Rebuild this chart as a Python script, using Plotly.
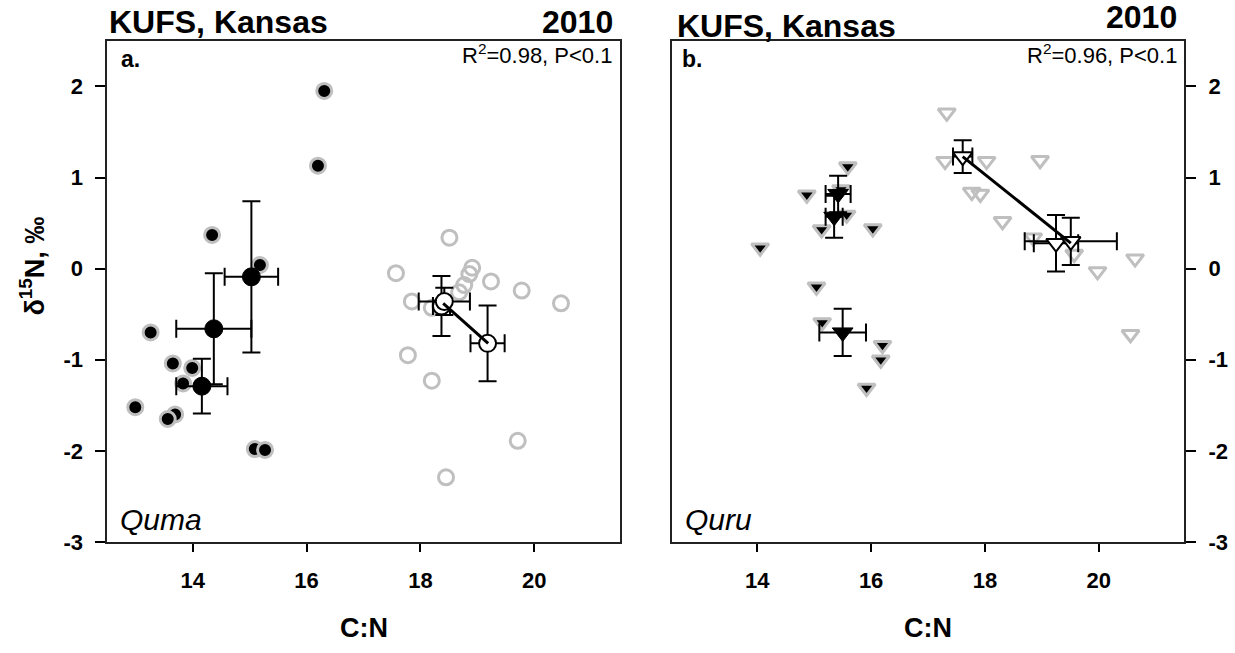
import plotly.graph_objects as go

# ---- panel a (Quma) ----
a_dark_x = [16.31, 16.20, 14.34, 15.18, 13.26, 13.65, 13.99, 13.83, 12.99, 13.69, 13.56, 15.09, 15.27]
a_dark_y = [1.95, 1.13, 0.37, 0.04, -0.70, -1.04, -1.09, -1.26, -1.52, -1.60, -1.65, -1.98, -1.99]
a_light_x = [18.51, 17.57, 18.91, 18.86, 19.24, 18.77, 18.68, 19.78, 20.47, 17.85, 18.20, 18.35, 17.78, 18.20, 19.71, 18.45]
a_light_y = [0.34, -0.05, 0.01, -0.06, -0.14, -0.18, -0.26, -0.24, -0.38, -0.36, -0.43, -0.41, -0.95, -1.23, -1.89, -2.29]

a_dark_mean_x = [15.03, 14.37, 14.16]
a_dark_mean_y = [-0.09, -0.66, -1.29]
a_dark_mean_ex = [0.47, 0.66, 0.45]
a_dark_mean_ey = [0.83, 0.61, 0.30]

a_light_mean_x = [18.37, 18.42, 19.18]
a_light_mean_y = [-0.41, -0.36, -0.82]
a_light_mean_ex = [0.15, 0.45, 0.30]
a_light_mean_ey = [0.33, 0.15, 0.415]

a_fit_x = [18.40, 19.19]
a_fit_y = [-0.38, -0.82]

# ---- panel b (Quru) ----
b_dark_x = [15.59, 14.87, 15.47, 15.57, 15.13, 16.03, 14.05, 15.04, 15.14, 16.20, 16.17, 15.92]
b_dark_y = [1.12, 0.81, 0.87, 0.59, 0.43, 0.44, 0.23, -0.20, -0.59, -0.84, -1.00, -1.31]
b_light_x = [17.33, 17.30, 18.03, 18.97, 17.77, 17.92, 18.31, 18.85, 19.57, 19.98, 20.64, 20.56]
b_light_y = [1.71, 1.18, 1.18, 1.19, 0.84, 0.82, 0.52, 0.34, 0.16, -0.03, 0.11, -0.72]

b_dark_mean_x = [15.42, 15.35, 15.50]
b_dark_mean_y = [0.82, 0.57, -0.70]
b_dark_mean_ex = [0.22, 0.15, 0.41]
b_dark_mean_ey = [0.20, 0.23, 0.26]

b_light_mean_x = [17.61, 19.25, 19.51]
b_light_mean_y = [1.23, 0.28, 0.30]
b_light_mean_ex = [0.17, 0.39, 0.81]
b_light_mean_ey = [0.18, 0.31, 0.26]

b_fit_x = [17.61, 19.51]
b_fit_y = [1.23, 0.28]

x_ticks = [14, 16, 18, 20]
x_ticktext = ['14', '16', '18', '20']
y_ticks = [-3, -2, -1, 0, 1, 2]
y_ticktext = ['-3', '-2', '-1', '0', '1', '2']

GREY = '#bfbfbf'
FONT = 'Liberation Sans'
W, H = 1235, 653


def err(vals):
    return dict(type='data', array=vals, color='black', thickness=2, width=9)


def add_panel(fig, xa, ya, dark_x, dark_y, light_x, light_y,
              dm_x, dm_y, dm_ex, dm_ey, lm_x, lm_y, lm_ex, lm_ey,
              fit_x, fit_y, sym):
    open_sym = sym + '-open'
    fig.add_trace(go.Scatter(x=light_x, y=light_y, mode='markers', xaxis=xa, yaxis=ya,
                             marker=dict(symbol=open_sym, size=15, color=GREY,
                                         line=dict(color=GREY, width=3))))
    fig.add_trace(go.Scatter(x=dark_x, y=dark_y, mode='markers', xaxis=xa, yaxis=ya,
                             marker=dict(symbol=sym, size=15, color='black',
                                         line=dict(color=GREY, width=3))))
    fig.add_trace(go.Scatter(x=dm_x, y=dm_y, mode='markers', xaxis=xa, yaxis=ya,
                             error_x=err(dm_ex), error_y=err(dm_ey),
                             marker=dict(symbol=sym, size=18, color='black',
                                         line=dict(color='black', width=1))))
    fig.add_trace(go.Scatter(x=lm_x, y=lm_y, mode='markers', xaxis=xa, yaxis=ya,
                             error_x=err(lm_ex), error_y=err(lm_ey),
                             marker=dict(symbol=sym, size=17, color='white',
                                         line=dict(color='black', width=2))))
    fig.add_trace(go.Scatter(x=fit_x, y=fit_y, mode='lines', xaxis=xa, yaxis=ya,
                             line=dict(color='black', width=3)))


fig = go.Figure()
add_panel(fig, 'x', 'y', a_dark_x, a_dark_y, a_light_x, a_light_y,
          a_dark_mean_x, a_dark_mean_y, a_dark_mean_ex, a_dark_mean_ey,
          a_light_mean_x, a_light_mean_y, a_light_mean_ex, a_light_mean_ey,
          a_fit_x, a_fit_y, 'circle')
add_panel(fig, 'x2', 'y2', b_dark_x, b_dark_y, b_light_x, b_light_y,
          b_dark_mean_x, b_dark_mean_y, b_dark_mean_ex, b_dark_mean_ey,
          b_light_mean_x, b_light_mean_y, b_light_mean_ex, b_light_mean_ey,
          b_fit_x, b_fit_y, 'triangle-down')

tickfont = dict(family=FONT, size=22, color='black', weight='bold')
y_dom = [1 - 553 / H, 1 - 41.7 / H]

common_x = dict(range=[12.5, 21.5], tickvals=x_ticks, ticktext=x_ticktext,
                ticks='outside', ticklen=8, tickwidth=1.5, tickcolor='black',
                showline=True, mirror=True, linecolor='#222', linewidth=2,
                showgrid=False, zeroline=False, tickfont=tickfont, ticklabelstandoff=10)
common_y = dict(range=[-3, 2.5], tickvals=y_ticks, ticktext=y_ticktext,
                ticks='outside', ticklen=10, tickwidth=1.5, tickcolor='black',
                showline=True, mirror=True, linecolor='#222', linewidth=2,
                showgrid=False, zeroline=False, tickfont=tickfont, domain=y_dom,
                ticklabelstandoff=8)

fig.update_layout(
    width=W, height=H,
    margin=dict(l=0, r=0, t=0, b=0),
    paper_bgcolor='white', plot_bgcolor='white',
    showlegend=False,
    xaxis=dict(common_x, domain=[107.4 / W, 619.6 / W], anchor='y'),
    yaxis=dict(common_y, anchor='x', side='left'),
    xaxis2=dict(common_x, domain=[672 / W, 1184 / W], anchor='y2'),
    yaxis2=dict(common_y, anchor='x2', side='right'),
)


def txt(text, px, py, size, xanchor='left', bold=False, italic=False, angle=0):
    fig.add_annotation(text=text, x=px / W, y=1 - py / H, xref='paper', yref='paper',
                       xanchor=xanchor, yanchor='middle', showarrow=False, textangle=angle,
                       font=dict(family=FONT, size=size, color='black',
                                 weight='bold' if bold else 'normal',
                                 style='italic' if italic else 'normal'))


txt('KUFS, Kansas', 107, 22, 32, bold=True)
txt('2010', 615, 22, 32, xanchor='right', bold=True)
txt('KUFS, Kansas', 675, 27, 32, bold=True)
txt('2010', 1179, 17, 32, xanchor='right', bold=True)

txt('a.', 119, 60, 23, bold=True)
txt('b.', 680, 60, 23, bold=True)
txt('R<sup>2</sup>=0.98, P<0.1', 614, 55, 22, xanchor='right')
txt('R<sup>2</sup>=0.96, P<0.1', 1179, 55, 22, xanchor='right')

txt('Quma', 118, 530, 30, italic=True)
txt('Quru', 683, 530, 30, italic=True)

txt('C:N', 364, 641, 27, xanchor='center', bold=True)
txt('C:N', 928, 641, 27, xanchor='center', bold=True)
txt('δ<sup>15</sup>N, ‰', 32, 272, 27, xanchor='center', bold=True, angle=-90)

# the page body has a default margin; drop it so the figure fills the window
fig.write_html("out.html", config={'displayModeBar': False},
               post_script="document.body.style.margin='0';")
